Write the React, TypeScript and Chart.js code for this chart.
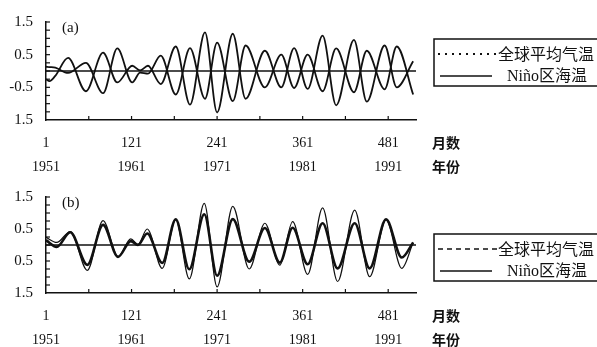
import React, { useEffect, useRef } from 'react';
import { Chart, registerables } from 'chart.js';

Chart.register(...registerables);

// ---------- data ----------
const monthTickValues = [1, 121, 241, 361, 481];
const monthTickLabels = ['1', '121', '241', '361', '481'];
const yearTickLabels = ['1951', '1961', '1971', '1981', '1991'];
const yTickValues = [-1.5, -0.5, 0.5, 1.5];
const yTickLabelsA = ['1.5', '-0.5', '0.5', '1.5'];
const yTickLabelsB = ['1.5', '0.5', '0.5', '1.5'];
const seriesNames = ['全球平均气温', 'Niño区海温'];
const axisUnitLabels = ['月数', '年份'];
const panelTags = ['(a)', '(b)'];

// panel (a): months and filtered anomalies
const monthsA = [1, 6, 14, 32, 57, 81, 101, 122, 133, 144, 162, 183, 203, 224, 241, 263, 281, 308, 331, 349, 368, 389, 408, 433, 451, 476, 493, 516];
const globalA = [-0.25, -0.31, -0.15, 0.4, -0.62, 0.56, -0.35, 0.16, 0.02, 0.16, -0.4, 0.75, -1.03, 1.18, -1.27, 1.14, -0.85, 0.62, -0.5, 0.7, -0.55, 1.08, -1.05, 0.95, -0.94, 0.78, -0.5, 0.3];
const ninoA = [0.13, 0.12, 0.1, -0.06, 0.25, -0.68, 0.69, -0.35, -0.05, -0.08, 0.47, -0.72, 0.7, -0.85, 0.87, -0.92, 0.78, -0.5, 0.5, -0.52, 0.5, -0.62, 0.69, -0.65, 0.62, -0.56, 0.75, -0.72];

// panel (b)
const monthsB = [1, 16, 35, 59, 81, 102, 120, 130, 143, 164, 183, 202, 223, 241, 263, 286, 308, 329, 347, 368, 389, 410, 434, 455, 478, 500, 516];
const globalB = [0.24, 0.08, 0.42, -0.79, 0.76, -0.37, 0.19, 0.02, 0.5, -0.73, 0.8, -1.06, 1.3, -1.31, 1.21, -0.75, 0.68, -0.63, 0.73, -0.92, 1.16, -1.14, 1.09, -0.99, 0.8, -0.73, 0.08];
const ninoB = [0.15, -0.06, 0.4, -0.62, 0.63, -0.37, 0.12, 0.0, 0.36, -0.56, 0.8, -0.76, 0.96, -0.96, 0.81, -0.52, 0.53, -0.55, 0.54, -0.6, 0.68, -0.73, 0.68, -0.73, 0.8, -0.39, 0.08];

const INK = '#111';
const SERIF = '"Liberation Serif", "DejaVu Serif", serif';
const CJK = '"Noto Sans CJK SC", sans-serif';

type PanelProps = {
  tag: string;
  height: number;
  plotHeight: number;
  months: number[];
  global: number[];
  nino: number[];
  yLabels: string[];
  globalWidth: number;
  ninoWidth: number;
  globalDash: number[];
  legendDash: number[];
  legendDashWidth: number;
  legendTop: number;
};

function Panel(p: PanelProps) {
  const ref = useRef<HTMLCanvasElement>(null);
  useEffect(() => {
    const labelPad = 11;
    const rowGap = 24;
    const decor = {
      id: 'decor',
      afterDraw(chart: any) {
        const { ctx, chartArea: ca, scales } = chart;
        const xs = scales.x;
        const ys = scales.y;
        ctx.save();
        ctx.strokeStyle = INK;
        ctx.fillStyle = INK;
        ctx.lineWidth = 1.2;
        // inner tick marks on x axis
        for (let m = 61; m <= 481; m += 60) {
          const px = xs.getPixelForValue(m);
          ctx.beginPath();
          ctx.moveTo(px, ca.bottom);
          ctx.lineTo(px, ca.bottom - 4);
          ctx.stroke();
        }
        // inner tick marks on y axis
        for (let i = -5; i <= 6; i++) {
          const py = ys.getPixelForValue(i * 0.25);
          ctx.beginPath();
          ctx.moveTo(ca.left, py);
          ctx.lineTo(ca.left + 4, py);
          ctx.stroke();
        }
        // panel tag
        ctx.font = `15px ${SERIF}`;
        ctx.textBaseline = 'middle';
        ctx.textAlign = 'left';
        ctx.fillText(p.tag, ca.left + 16, ca.top + 6);
        // unit labels
        ctx.font = `600 14px ${CJK}`;
        ctx.fillText(axisUnitLabels[0], ca.right + 16, ca.bottom + labelPad + rowGap / 2);
        ctx.fillText(axisUnitLabels[1], ca.right + 16, ca.bottom + labelPad + rowGap * 1.5);
        // legend box
        const lx = ca.right + 18;
        const ly = ca.top + p.legendTop;
        ctx.lineWidth = 1.5;
        ctx.strokeRect(lx, ly, 200, 47);
        // entry 1
        ctx.lineWidth = p.legendDashWidth;
        ctx.setLineDash(p.legendDash);
        ctx.beginPath();
        ctx.moveTo(lx + 4, ly + 15);
        ctx.lineTo(lx + 63, ly + 15);
        ctx.stroke();
        ctx.setLineDash([]);
        ctx.font = `16px ${CJK}`;
        ctx.fillText(seriesNames[0], lx + 64, ly + 15);
        // entry 2
        ctx.lineWidth = 1.5;
        ctx.beginPath();
        ctx.moveTo(lx + 6, ly + 37);
        ctx.lineTo(lx + 58, ly + 37);
        ctx.stroke();
        ctx.font = `16px ${SERIF}, ${CJK}`;
        ctx.fillText(seriesNames[1], lx + 73, ly + 38);
        ctx.restore();
      },
    };

    const xAxisHeight = p.height - 15 - p.plotHeight;
    const chart = new Chart(ref.current!, {
      type: 'line',
      data: {
        datasets: [
          {
            label: 'zero',
            data: [{ x: 1, y: 0 }, { x: 520, y: 0 }],
            borderColor: INK,
            borderWidth: 1.5,
            pointRadius: 0,
          },
          {
            label: seriesNames[0],
            data: p.months.map((m, i) => ({ x: m, y: p.global[i] })),
            borderColor: INK,
            borderWidth: p.globalWidth,
            borderDash: p.globalDash,
            pointRadius: 0,
            cubicInterpolationMode: 'monotone',
          },
          {
            label: seriesNames[1],
            data: p.months.map((m, i) => ({ x: m, y: p.nino[i] })),
            borderColor: INK,
            borderWidth: p.ninoWidth,
            pointRadius: 0,
            cubicInterpolationMode: 'monotone',
          },
        ],
      },
      options: {
        responsive: false,
        animation: false,
        events: [],
        layout: { padding: { left: 0, top: 15, right: 181, bottom: 0 } },
        plugins: { legend: { display: false }, tooltip: { enabled: false } },
        scales: {
          x: {
            type: 'linear',
            min: 1,
            max: 520,
            afterBuildTicks: (s: any) => {
              s.ticks = monthTickValues.map((v) => ({ value: v }));
            },
            afterFit: (s: any) => {
              s.height = xAxisHeight;
            },
            grid: { display: false, drawTicks: false },
            border: { display: true, color: INK, width: 1.5 },
            ticks: {
              autoSkip: false,
              maxRotation: 0,
              padding: labelPad,
              color: INK,
              font: { family: SERIF, size: 14, lineHeight: rowGap / 14 },
              callback: (v: any) => {
                const i = monthTickValues.indexOf(Number(v));
                return i < 0 ? '' : [monthTickLabels[i], yearTickLabels[i]];
              },
            },
          },
          y: {
            min: -1.5,
            max: 1.5,
            afterBuildTicks: (s: any) => {
              s.ticks = yTickValues.map((v) => ({ value: v }));
            },
            afterFit: (s: any) => {
              s.width = 46;
            },
            grid: { display: false, drawTicks: false },
            border: { display: true, color: INK, width: 1.5 },
            ticks: {
              padding: 13,
              color: INK,
              font: { family: SERIF, size: 15 },
              callback: (v: any) => p.yLabels[yTickValues.indexOf(Number(v))],
            },
          },
        },
      },
      plugins: [decor],
    } as any);
    return () => chart.destroy();
  }, []);
  return <canvas ref={ref} width={597} height={p.height} style={{ display: 'block' }} />;
}

export default function App() {
  return (
    <div style={{ position: 'fixed', left: 0, top: 0, width: 597, height: 347, background: '#fff', overflow: 'hidden' }}>
      <Panel
        tag={panelTags[0]}
        height={175}
        plotHeight={105}
        months={monthsA}
        global={globalA}
        nino={ninoA}
        yLabels={yTickLabelsA}
        globalWidth={1.8}
        ninoWidth={1.8}
        globalDash={[]}
        legendDash={[2, 5]}
        legendDashWidth={2.2}
        legendTop={17}
      />
      <Panel
        tag={panelTags[1]}
        height={172}
        plotHeight={103}
        months={monthsB}
        global={globalB}
        nino={ninoB}
        yLabels={yTickLabelsB}
        globalWidth={1.2}
        ninoWidth={2.6}
        globalDash={[]}
        legendDash={[5, 4]}
        legendDashWidth={1.3}
        legendTop={37}
      />
    </div>
  );
}
